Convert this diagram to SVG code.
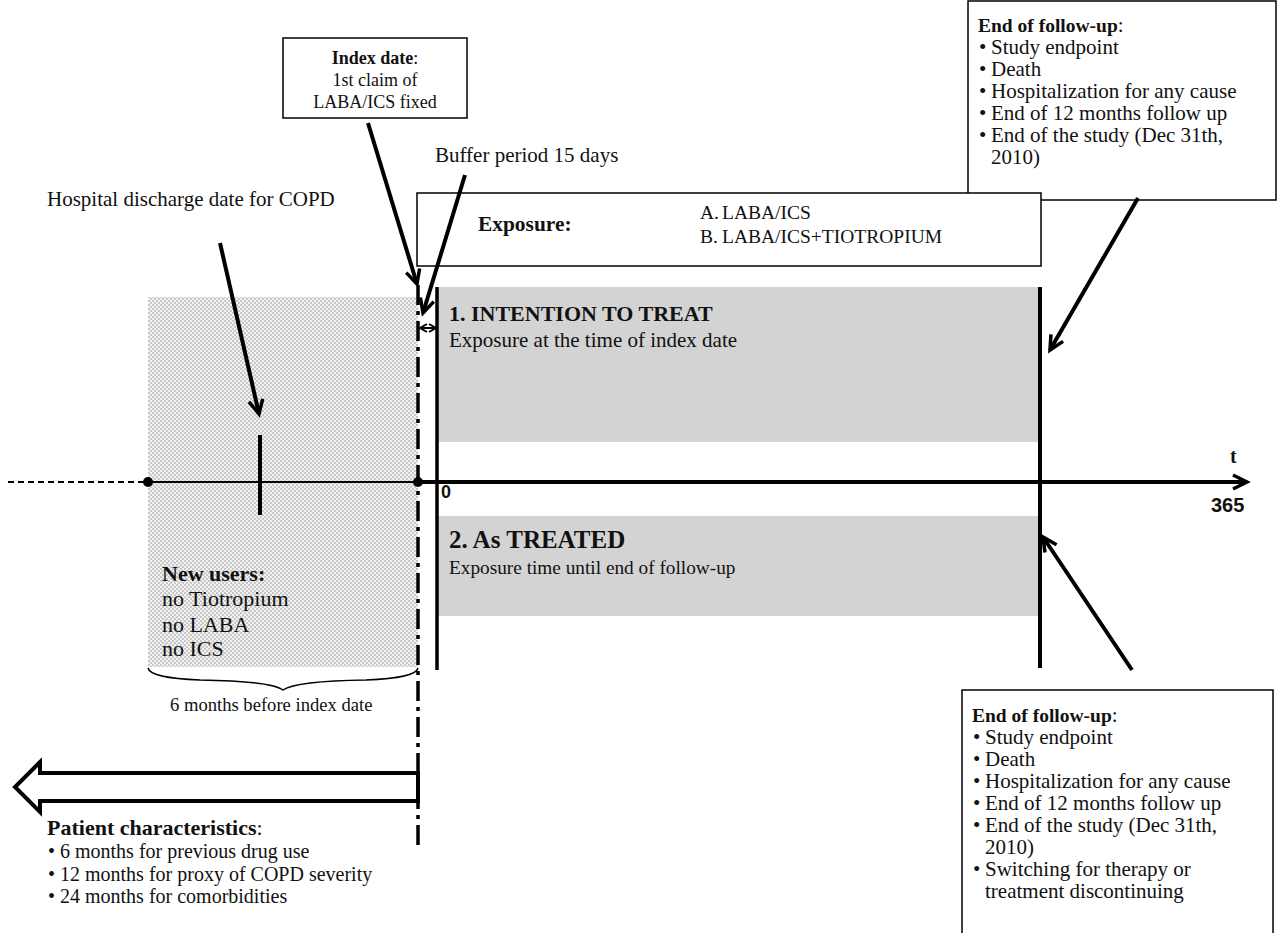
<svg xmlns="http://www.w3.org/2000/svg" width="1278" height="933" viewBox="0 0 1278 933">
<defs>
<pattern id="hatch" width="4" height="4" patternUnits="userSpaceOnUse">
<rect width="4" height="4" fill="#f2f2f2"/>
<rect width="2" height="2" fill="#c8c8c8"/>
<rect x="2" y="2" width="2" height="2" fill="#c8c8c8"/>
</pattern>
<marker id="vee" markerUnits="userSpaceOnUse" markerWidth="20" markerHeight="20" refX="15" refY="8" orient="auto" viewBox="0 0 20 16">
<path d="M1,1 L15,8 L1,15" fill="none" stroke="#000" stroke-width="3.5"/>
</marker>
<marker id="small" markerUnits="userSpaceOnUse" markerWidth="10" markerHeight="10" refX="8" refY="5" orient="auto-start-reverse" viewBox="0 0 10 10">
<path d="M1,1 L8,5 L1,9" fill="none" stroke="#000" stroke-width="2"/>
</marker>
</defs>
<style>
text{font-family:"Liberation Serif","Times New Roman",serif;font-size:21px;fill:#111}
.b{font-weight:bold}
.h{font-weight:bold;font-size:19.5px}
.sans{font-family:"Liberation Sans",Arial,sans-serif;font-weight:bold;font-size:20px}
.box{fill:#fff;stroke:#000;stroke-width:1.5}
.gray{fill:#d3d3d3}
.arr{stroke:#000;stroke-width:4;fill:none;marker-end:url(#vee)}
</style>
<rect width="1278" height="933" fill="#fff"/>

<g id="prior-period">
<rect x="148" y="297" width="270" height="370" fill="url(#hatch)"/>
<text x="162" y="581" class="b" style="font-size:22px">New users:</text>
<text x="162" y="606" style="font-size:22px">no Tiotropium</text>
<text x="162" y="632" style="font-size:22px">no LABA</text>
<text x="162" y="656" style="font-size:22px">no ICS</text>
<path d="M148,668 Q150,678 200,680 Q270,681 283,690 Q296,681 366,680 Q416,678 418,668" fill="none" stroke="#000" stroke-width="1.5"/>
<text x="170" y="711" style="font-size:18.6px">6 months before index date</text>
</g>

<g id="itt">
<rect x="437" y="287" width="603" height="155" class="gray"/>
<text x="449" y="321" class="b" style="font-size:22px">1. INTENTION TO TREAT</text>
<text x="449" y="347">Exposure at the time of index date</text>
</g>

<g id="as-treated">
<rect x="437" y="516" width="603" height="100" class="gray"/>
<text x="449" y="548" class="b" style="font-size:25px">2. As TREATED</text>
<text x="449" y="574" style="font-size:19.3px">Exposure time until end of follow-up</text>
</g>

<g id="end-followup-top">
<rect x="968" y="1" width="308" height="199" class="box"/>
<text x="978" y="32"><tspan class="h">End of follow-up</tspan>:</text>
<text x="979" y="54">•</text><text x="991" y="54">Study endpoint</text>
<text x="979" y="76">•</text><text x="991" y="76">Death</text>
<text x="979" y="98">•</text><text x="991" y="98">Hospitalization for any cause</text>
<text x="979" y="120">•</text><text x="991" y="120">End of 12 months follow up</text>
<text x="979" y="142">•</text><text x="991" y="142">End of the study (Dec 31th,</text>
<text x="991" y="164">2010)</text>
</g>

<g id="exposure">
<rect x="417" y="193" width="624" height="73" class="box"/>
<text x="478" y="231" class="b" style="font-size:21.4px">Exposure:</text>
<text x="700" y="219" style="font-size:19.5px">A.</text><text x="722" y="219" style="font-size:19.5px">LABA/ICS</text>
<text x="700" y="243" style="font-size:19.5px">B.</text><text x="722" y="243" style="font-size:19.5px">LABA/ICS+TIOTROPIUM</text>
</g>

<g id="index-date">
<rect x="283" y="38" width="184" height="80" class="box"/>
<text x="375" y="64" text-anchor="middle" style="font-size:18px"><tspan class="b">Index date</tspan>:</text>
<text x="375" y="86" text-anchor="middle" style="font-size:18px">1st claim of</text>
<text x="375" y="108" text-anchor="middle" style="font-size:18px">LABA/ICS fixed</text>
</g>

<g id="labels">
<text x="47" y="206">Hospital discharge date for COPD</text>
<text x="435" y="162">Buffer period 15 days</text>
<text x="1230" y="463" class="b" style="font-size:20px">t</text>
<text x="441" y="498" class="sans" style="font-size:18px">0</text>
<text x="1211" y="512" class="sans">365</text>
</g>

<g id="end-followup-bottom">
<rect x="962" y="690" width="311" height="250" class="box"/>
<text x="972" y="722"><tspan class="h">End of follow-up</tspan>:</text>
<text x="973" y="744">•</text><text x="985" y="744">Study endpoint</text>
<text x="973" y="766">•</text><text x="985" y="766">Death</text>
<text x="973" y="788">•</text><text x="985" y="788">Hospitalization for any cause</text>
<text x="973" y="810">•</text><text x="985" y="810">End of 12 months follow up</text>
<text x="973" y="832">•</text><text x="985" y="832">End of the study (Dec 31th,</text>
<text x="985" y="854">2010)</text>
<text x="973" y="876">•</text><text x="985" y="876">Switching for therapy or</text>
<text x="985" y="898">treatment discontinuing</text>
</g>

<g id="patient-characteristics">
<path d="M418,773 L40,773 L40,762 L15,787 L40,812 L40,801 L418,801 Z" fill="#fff" stroke="#000" stroke-width="4" stroke-linejoin="miter"/>
<text x="47" y="835" style="font-size:22px"><tspan class="b">Patient characteristics</tspan>:</text>
<text x="48" y="858" style="font-size:20px">•</text><text x="60" y="858" style="font-size:20px">6 months for previous drug use</text>
<text x="48" y="881" style="font-size:20px">•</text><text x="60" y="881" style="font-size:20px">12 months for proxy of COPD severity</text>
<text x="48" y="903" style="font-size:20px">•</text><text x="60" y="903" style="font-size:20px">24 months for comorbidities</text>
</g>

<g id="connectors">
<line x1="8" y1="482" x2="148" y2="482" stroke="#000" stroke-width="2" stroke-dasharray="6 4"/>
<line x1="148" y1="482" x2="418" y2="482" stroke="#000" stroke-width="2"/>
<line x1="418" y1="482" x2="1247" y2="482" class="arr"/>
<circle cx="148" cy="482" r="5"/>
<circle cx="418" cy="482" r="5"/>
<line x1="260" y1="435" x2="260" y2="515" stroke="#000" stroke-width="4"/>
<line x1="418" y1="285" x2="418" y2="848" stroke="#000" stroke-width="3.5" stroke-dasharray="20 6 4 6"/>
<line x1="437" y1="287" x2="437" y2="670" stroke="#000" stroke-width="3.5"/>
<line x1="1040" y1="287" x2="1040" y2="668" stroke="#000" stroke-width="4"/>
<line x1="220" y1="243" x2="259" y2="414" class="arr"/>
<line x1="368" y1="123" x2="417" y2="284" class="arr"/>
<line x1="465" y1="175" x2="423" y2="313" class="arr"/>
<line x1="420" y1="328" x2="436" y2="328" stroke="#000" stroke-width="2" marker-start="url(#small)" marker-end="url(#small)"/>
<line x1="1138" y1="198" x2="1050" y2="350" class="arr"/>
<line x1="1132" y1="670" x2="1043" y2="537" class="arr"/>
</g>
</svg>
